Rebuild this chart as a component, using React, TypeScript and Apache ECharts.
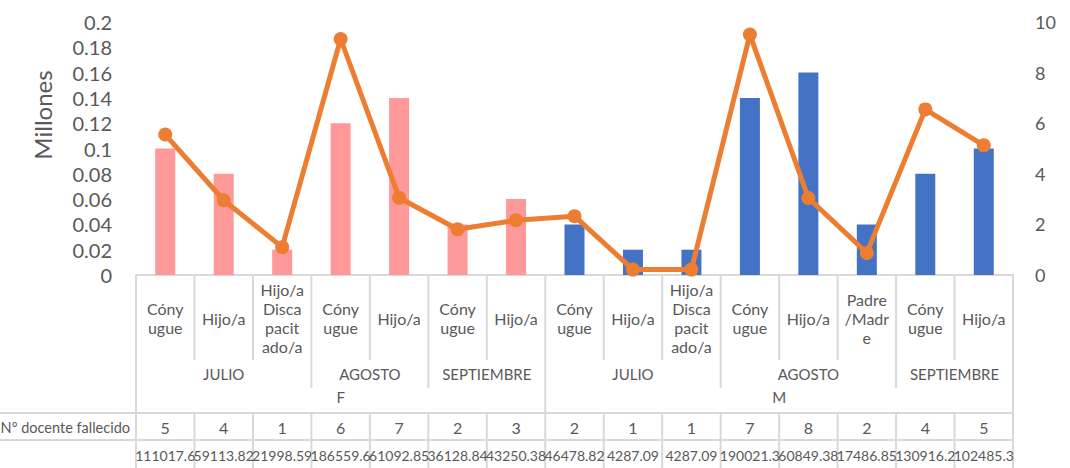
import React, { useEffect, useRef } from "react";
import * as echarts from "echarts";

const relations = [
  "Cóny\nugue", "Hijo/a", "Hijo/a\nDisca\npacit\nado/a", "Cóny\nugue", "Hijo/a", "Cóny\nugue", "Hijo/a",
  "Cóny\nugue", "Hijo/a", "Hijo/a\nDisca\npacit\nado/a", "Cóny\nugue", "Hijo/a", "Padre\n/Madr\ne", "Cóny\nugue", "Hijo/a",
];
const months = ["JULIO", "AGOSTO", "SEPTIEMBRE", "JULIO", "AGOSTO", "SEPTIEMBRE"];
const monthSpans = [3, 2, 2, 3, 3, 2];
const sexes = ["F", "M"];
const sexSpans = [7, 8];
const counts = [5, 4, 1, 6, 7, 2, 3, 2, 1, 1, 7, 8, 2, 4, 5];
const amounts = [
  111017.6, 59113.82, 21998.59, 186559.6, 61092.85, 36128.84, 43250.38,
  46478.82, 4287.09, 4287.09, 190021.3, 60849.38, 17486.85, 130916.2, 102485.3,
];
const countRowLabel = "Nº docente fallecido";
const leftAxisName = "Millones";

const FONT = "Lato";
const TXT = "#595959";
const GRID = "#D9D9D9";

export default function App() {
  const ref = useRef<HTMLDivElement>(null);
  useEffect(() => {
    if (!ref.current) return;
    const chart = echarts.init(ref.current, null, { renderer: "svg" });
    const nF = sexSpans[0];
    const fBars = counts.map((v, i) => (i < nF ? v : null));
    const mBars = counts.map((v, i) => (i >= nF ? v : null));
    const line = amounts.map((v) => v / 1e6);
    chart.setOption({
      animation: false,
      textStyle: { fontFamily: FONT },
      grid: { left: 136, right: 57, top: 22, bottom: 193 },
      xAxis: {
        type: "category",
        data: relations,
        axisLine: { show: true, lineStyle: { color: GRID, width: 2 } },
        axisTick: { show: false },
        axisLabel: {
          interval: 0,
          margin: 43,
          verticalAlign: "middle",
          lineHeight: 19,
          fontSize: 16,
          color: TXT,
          fontFamily: FONT,
        },
      },
      yAxis: [
        {
          type: "value",
          position: "left",
          min: 0,
          max: 0.2,
          interval: 0.02,
          splitLine: { show: false },
          axisLine: { show: false },
          axisTick: { show: false },
          axisLabel: {
            fontSize: 20,
            color: TXT,
            margin: 24,
            fontFamily: FONT,
            formatter: (v: number) => String(+v.toFixed(2)),
          },
        },
        {
          type: "value",
          position: "right",
          min: 0,
          max: 10,
          interval: 2,
          splitLine: { show: false },
          axisLine: { show: false },
          axisTick: { show: false },
          axisLabel: { fontSize: 18, color: TXT, margin: 22, fontFamily: FONT },
        },
      ],
      series: [
        {
          type: "bar",
          yAxisIndex: 1,
          data: fBars,
          barWidth: 20,
          barGap: "-100%",
          itemStyle: { color: "#FF9999" },
        },
        {
          type: "bar",
          yAxisIndex: 1,
          data: mBars,
          barWidth: 20,
          barGap: "-100%",
          itemStyle: { color: "#4472C4" },
        },
        {
          type: "line",
          yAxisIndex: 0,
          data: line,
          symbol: "circle",
          symbolSize: 14,
          lineStyle: { color: "#ED7D31", width: 5 },
          itemStyle: { color: "#ED7D31" },
          z: 5,
        },
      ],
    });

    const c0 = chart.convertToPixel({ xAxisIndex: 0 }, 0) as number;
    const c1 = chart.convertToPixel({ xAxisIndex: 0 }, 1) as number;
    const bw = c1 - c0;
    const left = c0 - bw / 2;
    const n = relations.length;
    const right = left + n * bw;
    const y0 = chart.convertToPixel({ yAxisIndex: 0 }, 0) as number;
    const H = 468;
    const rowRelBottom = y0 + 85;
    const rowMonthBottom = y0 + 113;
    const rowCountTop = y0 + 138;
    const rowAmountTop = y0 + 165;

    const monthBounds: number[] = [];
    let acc = 0;
    monthSpans.forEach((s) => {
      acc += s;
      monthBounds.push(acc);
    });
    const sexBounds: number[] = [0];
    acc = 0;
    sexSpans.forEach((s) => {
      acc += s;
      sexBounds.push(acc);
    });

    const els: any[] = [];
    const vline = (x: number, ya: number, yb: number) =>
      els.push({
        type: "line",
        shape: { x1: x, y1: ya, x2: x, y2: yb },
        style: { stroke: GRID, lineWidth: 2 },
        silent: true,
      });
    for (let k = 0; k <= n; k++) {
      const x = left + k * bw;
      if (sexBounds.includes(k)) {
        vline(x, y0, H);
      } else {
        if (monthBounds.includes(k)) vline(x, y0, rowMonthBottom);
        else vline(x, y0, rowRelBottom);
        vline(x, rowCountTop, H);
      }
    }
    [rowCountTop, rowAmountTop].forEach((y) =>
      els.push({
        type: "line",
        shape: { x1: 0, y1: y, x2: right, y2: y },
        style: { stroke: GRID, lineWidth: 2 },
        silent: true,
      })
    );
    const txt = (x: number, y: number, text: string, size: number, align = "center") =>
      els.push({
        type: "text",
        x,
        y,
        style: {
          text,
          fill: TXT,
          fontSize: size,
          fontFamily: FONT,
          align,
          verticalAlign: "middle",
        },
        silent: true,
      });
    let start = 0;
    monthSpans.forEach((s, i) => {
      txt(left + (start + s / 2) * bw, y0 + 99, months[i], 15);
      start += s;
    });
    start = 0;
    sexSpans.forEach((s, i) => {
      txt(left + (start + s / 2) * bw, y0 + 122, sexes[i], 15);
      start += s;
    });
    counts.forEach((v, i) => txt(left + (i + 0.5) * bw, y0 + 152, String(v), 16));
    amounts.forEach((v, i) => txt(left + (i + 0.5) * bw, y0 + 180, String(v), 14));
    txt(left - 6, y0 + 152, countRowLabel, 14.5, "right");
    els.push({
      type: "text",
      x: 42,
      y: 115,
      rotation: Math.PI / 2,
      style: {
        text: leftAxisName,
        fill: TXT,
        fontSize: 24,
        fontFamily: FONT,
        align: "center",
        verticalAlign: "middle",
      },
      silent: true,
    });
    chart.setOption({ graphic: { elements: els } });

    return () => chart.dispose();
  }, []);
  return (
    <div
      ref={ref}
      style={{ position: "fixed", left: 0, top: 0, width: 1070, height: 468, background: "#fff" }}
    />
  );
}
